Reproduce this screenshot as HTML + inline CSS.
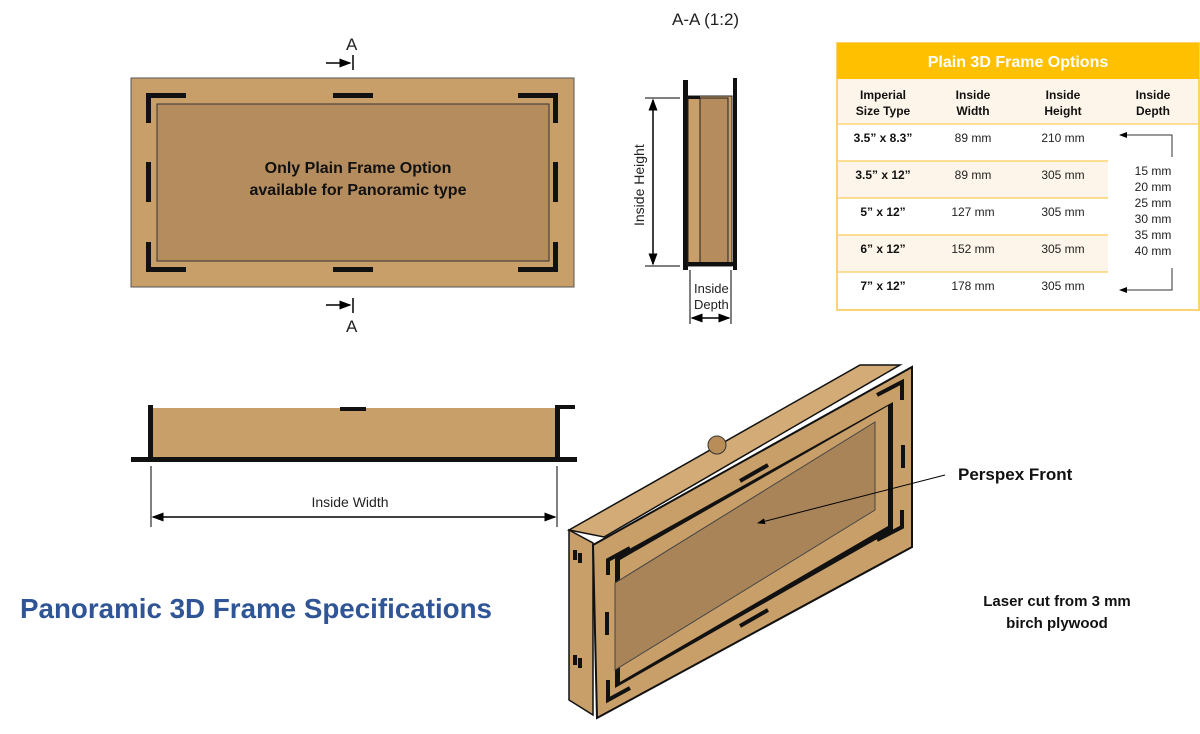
<!DOCTYPE html>
<html><head><meta charset="utf-8"><style>
body{margin:0;background:#fff;}
svg{display:block;font-family:"Liberation Sans",sans-serif;}
.b{font-weight:bold;}
</style></head><body>
<svg width="1200" height="734" viewBox="0 0 1200 734">
<defs>
<marker id="ar" markerWidth="8" markerHeight="8" refX="7" refY="4" orient="auto"><path d="M0,1 L8,4 L0,7 Z" fill="#000"/></marker>
<marker id="al" markerWidth="8" markerHeight="8" refX="1" refY="4" orient="auto"><path d="M8,1 L0,4 L8,7 Z" fill="#000"/></marker>
</defs>
<text x="672" y="25" font-size="17" fill="#222">A-A (1:2)</text>
<rect x="131" y="78" width="443" height="209" fill="#c99f69" stroke="#555" stroke-width="1"/>
<rect x="157" y="104" width="392" height="157" fill="#b48c5d" stroke="#333" stroke-width="1"/>
<g fill="#111">
<rect x="146" y="93" width="40" height="5"/><rect x="146" y="93" width="5" height="30"/>
<rect x="518" y="93" width="40" height="5"/><rect x="553" y="93" width="5" height="30"/>
<rect x="146" y="267" width="40" height="5"/><rect x="146" y="242" width="5" height="30"/>
<rect x="518" y="267" width="40" height="5"/><rect x="553" y="242" width="5" height="30"/>
<rect x="333" y="93" width="40" height="5"/><rect x="333" y="267" width="40" height="5"/>
<rect x="146" y="162" width="5" height="40"/><rect x="553" y="162" width="5" height="40"/>
</g>
<text x="358" y="173" font-size="16" class="b" text-anchor="middle" fill="#111">Only Plain Frame Option</text>
<text x="358" y="195" font-size="16" class="b" text-anchor="middle" fill="#111">available for Panoramic type</text>
<text x="346" y="50" font-size="17" fill="#222">A</text>
<line x1="326" y1="63" x2="350" y2="63" stroke="#000" stroke-width="1.5" marker-end="url(#ar)"/>
<line x1="353" y1="55" x2="353" y2="70" stroke="#000" stroke-width="1.5"/>
<text x="346" y="332" font-size="17" fill="#222">A</text>
<line x1="326" y1="305" x2="350" y2="305" stroke="#000" stroke-width="1.5" marker-end="url(#ar)"/>
<line x1="353" y1="298" x2="353" y2="313" stroke="#000" stroke-width="1.5"/>
<rect x="683" y="80" width="5" height="190" fill="#111"/>
<rect x="688" y="96" width="44" height="170" fill="#c99f69" stroke="#222"/>
<rect x="700" y="98" width="28" height="166" fill="#b48c5d" stroke="#222"/>
<rect x="733" y="78" width="4" height="192" fill="#111"/>
<rect x="688" y="96" width="12" height="3" fill="#111"/><rect x="688" y="262" width="48" height="4" fill="#111"/>
<line x1="645" y1="98" x2="680" y2="98" stroke="#000"/><line x1="645" y1="266" x2="680" y2="266" stroke="#000"/>
<line x1="653" y1="100" x2="653" y2="264" stroke="#000" stroke-width="1.5" marker-start="url(#al)" marker-end="url(#ar)"/>
<text transform="translate(644,226) rotate(-90)" font-size="14" fill="#222">Inside Height</text>
<line x1="690" y1="270" x2="690" y2="324" stroke="#000"/><line x1="731" y1="270" x2="731" y2="324" stroke="#000"/>
<line x1="692" y1="318" x2="729" y2="318" stroke="#000" stroke-width="1.5" marker-start="url(#al)" marker-end="url(#ar)"/>
<text x="694" y="293" font-size="13" fill="#222">Inside</text>
<text x="694" y="309" font-size="13" fill="#222">Depth</text>
<rect x="837" y="43" width="362" height="267" fill="#fff" stroke="#fcd370" stroke-width="2"/>
<rect x="837" y="43" width="362" height="36" fill="#ffc000"/>
<text x="1018" y="67" font-size="16" class="b" text-anchor="middle" fill="#fff">Plain 3D Frame Options</text>
<rect x="838" y="79" width="360" height="45" fill="#fdf5e9"/>
<rect x="838" y="161" width="270" height="37" fill="#fdf5e9"/>
<rect x="838" y="235" width="270" height="37" fill="#fdf5e9"/>
<g stroke="#fcd370" stroke-width="1.5">
<line x1="838" y1="124" x2="1198" y2="124"/><line x1="838" y1="161" x2="1108" y2="161"/>
<line x1="838" y1="198" x2="1108" y2="198"/><line x1="838" y1="235" x2="1108" y2="235"/><line x1="838" y1="272" x2="1108" y2="272"/>
</g>
<g font-size="12" class="b" text-anchor="middle" fill="#111">
<text x="883" y="99">Imperial</text><text x="883" y="115">Size Type</text>
<text x="973" y="99">Inside</text><text x="973" y="115">Width</text>
<text x="1063" y="99">Inside</text><text x="1063" y="115">Height</text>
<text x="1153" y="99">Inside</text><text x="1153" y="115">Depth</text>
<text x="883" y="142">3.5” x 8.3”</text><text x="883" y="179">3.5” x 12”</text>
<text x="883" y="216">5” x 12”</text><text x="883" y="253">6” x 12”</text><text x="883" y="290">7” x 12”</text>
</g>
<g font-size="12" text-anchor="middle" fill="#222">
<text x="973" y="142">89 mm</text><text x="1063" y="142">210 mm</text>
<text x="973" y="179">89 mm</text><text x="1063" y="179">305 mm</text>
<text x="973" y="216">127 mm</text><text x="1063" y="216">305 mm</text>
<text x="973" y="253">152 mm</text><text x="1063" y="253">305 mm</text>
<text x="973" y="290">178 mm</text><text x="1063" y="290">305 mm</text>
<text x="1153" y="175">15 mm</text><text x="1153" y="191">20 mm</text><text x="1153" y="207">25 mm</text>
<text x="1153" y="223">30 mm</text><text x="1153" y="239">35 mm</text><text x="1153" y="255">40 mm</text>
</g>
<polyline points="1172,157 1172,135 1120,135" fill="none" stroke="#333" marker-end="url(#ar)"/>
<polyline points="1172,268 1172,290 1120,290" fill="none" stroke="#333" marker-end="url(#ar)"/>
<rect x="148" y="408" width="412" height="50" fill="#c99f69"/>
<rect x="131" y="457" width="446" height="5" fill="#111"/>
<rect x="148" y="405" width="5" height="53" fill="#111"/><rect x="555" y="405" width="5" height="53" fill="#111"/>
<rect x="555" y="405" width="20" height="4" fill="#111"/>
<rect x="340" y="407" width="26" height="4" fill="#111"/>
<line x1="151" y1="466" x2="151" y2="527" stroke="#000"/><line x1="557" y1="466" x2="557" y2="527" stroke="#000"/>
<line x1="153" y1="517" x2="555" y2="517" stroke="#000" stroke-width="1.5" marker-start="url(#al)" marker-end="url(#ar)"/>
<text x="350" y="507" font-size="14" text-anchor="middle" fill="#222">Inside Width</text>
<polygon points="569,530 860,365 900,365 604,537" fill="#d2ab76" stroke="#111" stroke-width="1.5"/>
<polygon points="569,530 593,543 593,715 569,700" fill="#c99f69" stroke="#111" stroke-width="1.5"/>
<circle cx="717" cy="445" r="9" fill="#b88d58" stroke="#333"/>
<polygon points="593,545 912,367 912,547 597,718" fill="#c99f69" stroke="#111" stroke-width="2"/>
<polygon points="615,557 893,402 893,530 615,688" fill="#111"/>
<polygon points="620,560 888,406 888,526 620,682" fill="#c99f69"/>
<polygon points="615,583 875,422 875,510 615,670" fill="#a88458" stroke="#444"/>
<g stroke="#111" stroke-width="4" fill="none">
<line x1="740" y1="481" x2="768" y2="465"/><line x1="740" y1="626" x2="768" y2="610"/>
<line x1="607" y1="612" x2="607" y2="635"/><line x1="903" y1="445" x2="903" y2="468"/>
<polyline points="608,575 608,560 630,548"/><polyline points="877,395 902,382 902,400"/>
<polyline points="608,680 608,700 630,688"/><polyline points="877,540 902,527 902,510"/>
<line x1="575" y1="550" x2="575" y2="560"/><line x1="580" y1="553" x2="580" y2="563"/>
<line x1="575" y1="655" x2="575" y2="665"/><line x1="580" y1="658" x2="580" y2="668"/>
</g>
<line x1="945" y1="475" x2="758" y2="523" stroke="#000" marker-end="url(#ar)"/>
<text x="958" y="480" font-size="17" class="b" fill="#111">Perspex Front</text>
<text x="1057" y="606" font-size="15" class="b" text-anchor="middle" fill="#111">Laser cut from 3 mm</text>
<text x="1057" y="628" font-size="15" class="b" text-anchor="middle" fill="#111">birch plywood</text>
<text x="20" y="618" font-size="28" class="b" fill="#2f5597" textLength="472" lengthAdjust="spacingAndGlyphs">Panoramic 3D Frame Specifications</text>
</svg>
</body></html>
